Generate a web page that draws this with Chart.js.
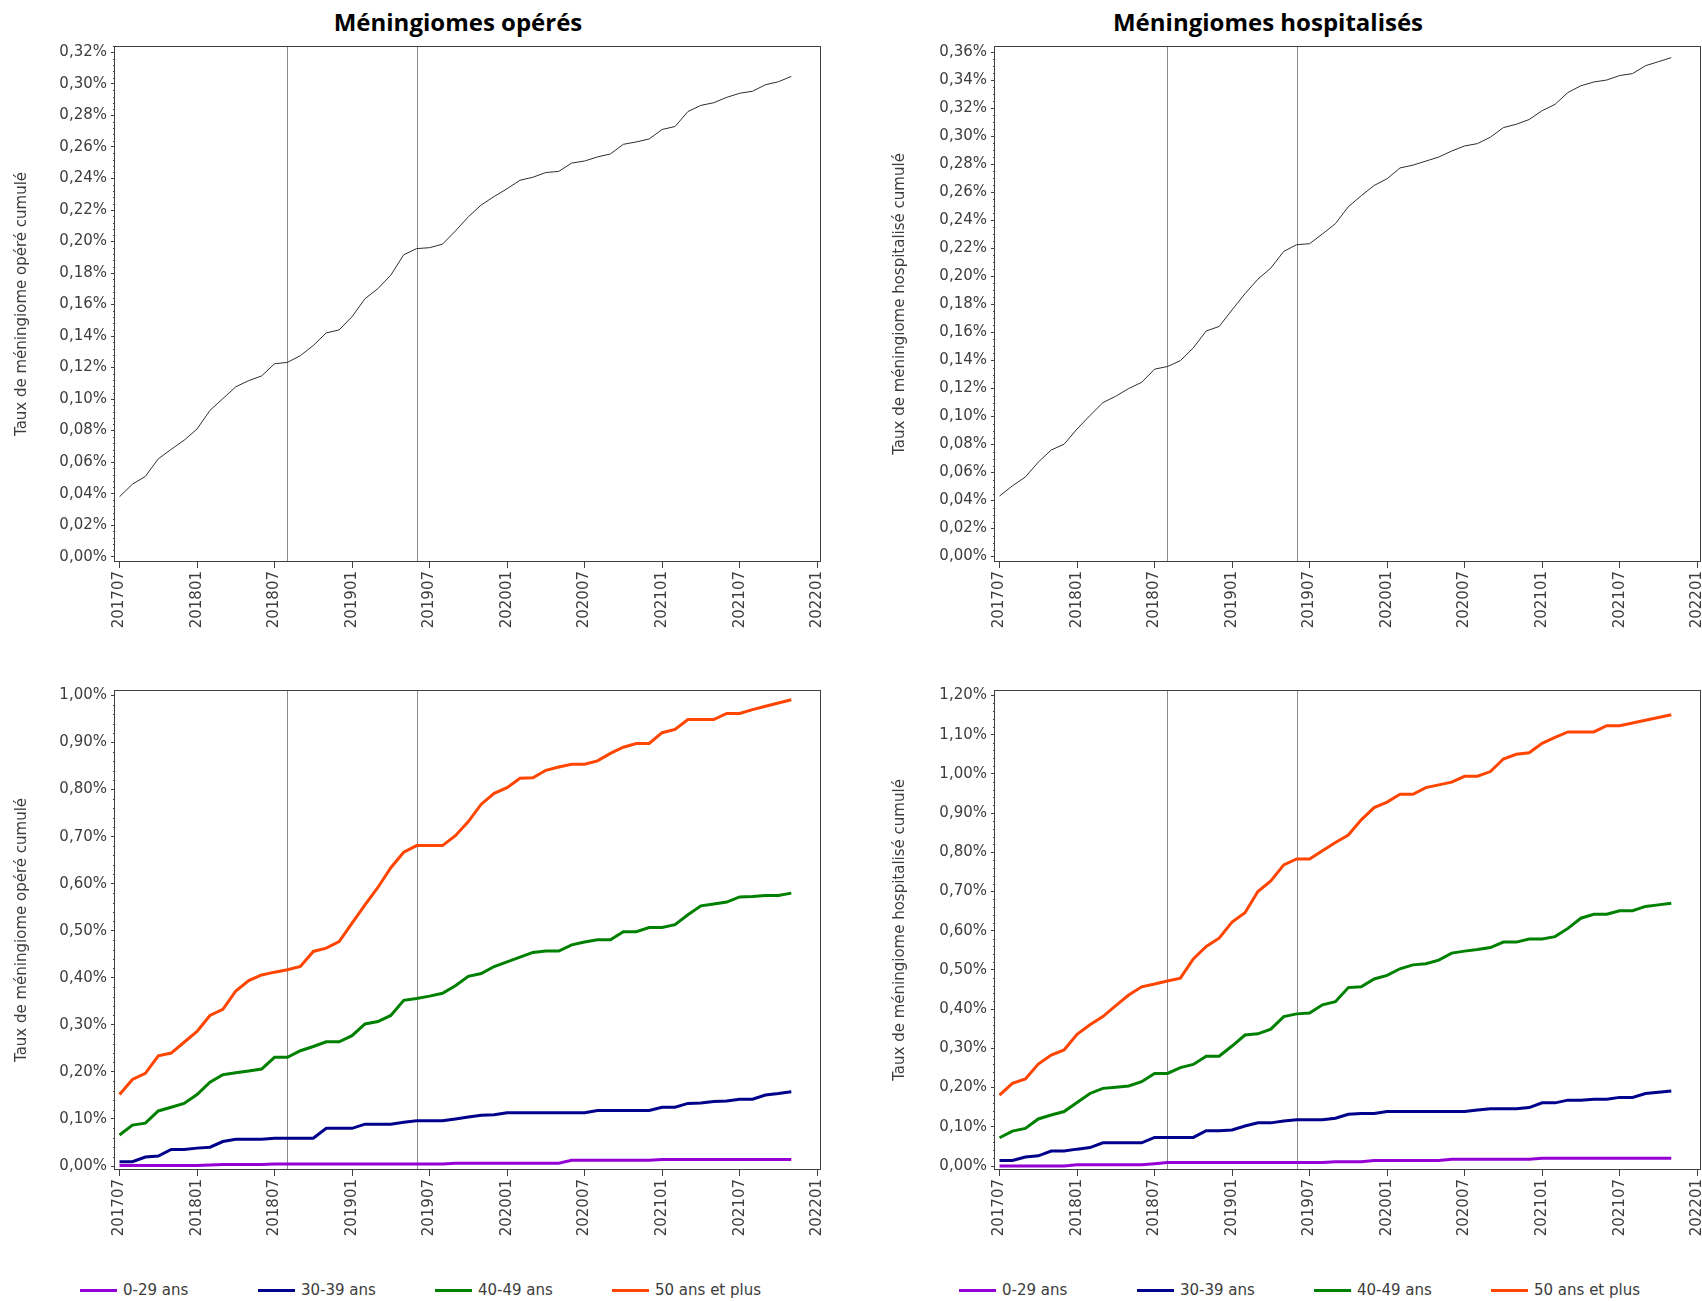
<!DOCTYPE html>
<html lang="fr">
<head>
<meta charset="utf-8">
<title>Méningiomes opérés / hospitalisés</title>
<script src="https://cdn.jsdelivr.net/npm/chart.js@4.4.0/dist/chart.umd.min.js"></script>
<style>
    html, body { margin: 0; padding: 0; background: #fff; }
    #page { position: relative; width: 1702px; height: 1301px; overflow: hidden; background: #fff; }
    .panel-title {
        position: absolute; top: 21px; transform: translate(-50%, -50%);
        font-family: 'Open Sans', sans-serif; font-weight: 700; font-size: 24px;
        color: #000; white-space: nowrap;
    }
    canvas { position: absolute; }
    .legend-item {
        position: absolute; top: 1280px; height: 20px; line-height: 20px;
        font-family: 'DejaVu Sans', sans-serif; font-size: 15px; color: #3c3c3c; white-space: nowrap;
    }
    .legend-item span {
        display: inline-block; width: 37px; height: 3px; margin-right: 6px; vertical-align: middle;
    }
</style>
</head>
<body>
<div id="page">
    <div class="panel-title" style="left:458px">Méningiomes opérés</div>
    <div class="panel-title" style="left:1268px">Méningiomes hospitalisés</div>
    <canvas id="op-total" width="841" height="612" style="left:0px;top:30px"></canvas>
    <canvas id="hosp-total" width="871" height="612" style="left:850px;top:30px"></canvas>
    <canvas id="op-age" width="841" height="576" style="left:0px;top:674px"></canvas>
    <canvas id="hosp-age" width="871" height="576" style="left:850px;top:674px"></canvas>
</div>
<script>
// mois (abscisses)
const months = [
    '201707','201708','201709','201710','201711','201712',
    '201801','201802','201803','201804','201805','201806','201807','201808','201809','201810','201811','201812',
    '201901','201902','201903','201904','201905','201906','201907','201908','201909','201910','201911','201912',
    '202001','202002','202003','202004','202005','202006','202007','202008','202009','202010','202011','202012',
    '202101','202102','202103','202104','202105','202106','202107','202108','202109','202110','202111'
];
const xTickLabels = ['201707','201801','201807','201901','201907','202001','202007','202101','202107','202201'];
const alertMonths = ['201808', '201906'];

const ageGroups = ['0-29 ans', '30-39 ans', '40-49 ans', '50 ans et plus'];
const ageColors = ['#9400d3', '#00008b', '#008000', '#ff4500'];

// taux cumulés (%)
const opTotal = [
    0.0380,0.0460,0.0509,0.0621,0.0681,0.0739,0.0810,0.0928,0.1003,0.1078,
    0.1117,0.1147,0.1224,0.1233,0.1276,0.1340,0.1420,0.1439,0.1523,0.1637,
    0.1701,0.1787,0.1916,0.1955,0.1961,0.1983,0.2067,0.2157,0.2232,0.2286,
    0.2335,0.2389,0.2408,0.2438,0.2445,0.2498,0.2511,0.2537,0.2556,0.2617,
    0.2632,0.2651,0.2711,0.2730,0.2825,0.2864,0.2881,0.2915,0.2941,0.2954,
    0.2995,0.3014,0.3048
];
const hospTotal = [
    0.0432,0.0505,0.0568,0.0674,0.0761,0.0802,0.0911,0.1007,0.1099,0.1145,
    0.1200,0.1244,0.1338,0.1357,0.1399,0.1490,0.1611,0.1643,0.1761,0.1877,
    0.1981,0.2060,0.2179,0.2227,0.2234,0.2304,0.2377,0.2498,0.2577,0.2650,
    0.2698,0.2775,0.2795,0.2824,0.2853,0.2896,0.2932,0.2949,0.2995,0.3063,
    0.3087,0.3121,0.3184,0.3229,0.3314,0.3362,0.3389,0.3403,0.3435,0.3449,
    0.3505,0.3534,0.3563
];

const op0_29 = [
    0.001,0.001,0.001,0.001,0.001,0.001,0.001,0.002,0.003,0.003,
    0.003,0.003,0.004,0.004,0.004,0.004,0.004,0.004,0.004,0.004,
    0.004,0.004,0.004,0.004,0.004,0.004,0.006,0.006,0.006,0.006,
    0.006,0.006,0.006,0.006,0.006,0.012,0.012,0.012,0.012,0.012,
    0.012,0.012,0.014,0.014,0.014,0.014,0.014,0.014,0.014,0.014,
    0.014,0.014,0.014
];
const op30_39 = [
    0.009,0.009,0.019,0.021,0.035,0.035,0.038,0.040,0.052,0.057,
    0.057,0.057,0.059,0.059,0.059,0.059,0.080,0.080,0.080,0.089,
    0.089,0.089,0.093,0.096,0.096,0.096,0.100,0.104,0.108,0.109,
    0.113,0.113,0.113,0.113,0.113,0.113,0.113,0.118,0.118,0.118,
    0.118,0.118,0.125,0.125,0.133,0.134,0.137,0.138,0.142,0.142,
    0.151,0.154,0.158
];
const op40_49 = [
    0.066,0.087,0.091,0.117,0.125,0.133,0.152,0.178,0.194,0.198,
    0.202,0.206,0.231,0.231,0.245,0.254,0.264,0.264,0.277,0.302,
    0.307,0.320,0.352,0.356,0.361,0.367,0.383,0.403,0.409,0.424,
    0.434,0.444,0.454,0.457,0.457,0.470,0.476,0.481,0.481,0.498,
    0.498,0.507,0.507,0.513,0.534,0.553,0.557,0.561,0.572,0.573,
    0.575,0.575,0.580
];
const op50plus = [
    0.152,0.184,0.197,0.234,0.240,0.263,0.286,0.320,0.333,0.372,
    0.394,0.406,0.412,0.417,0.424,0.456,0.463,0.477,0.516,0.555,
    0.592,0.634,0.667,0.681,0.681,0.681,0.702,0.732,0.769,0.792,
    0.804,0.824,0.825,0.841,0.848,0.854,0.854,0.861,0.877,0.890,
    0.898,0.898,0.921,0.928,0.949,0.949,0.949,0.962,0.962,0.970,
    0.977,0.984,0.991
];

const hosp0_29 = [
    0.000,0.000,0.000,0.000,0.000,0.000,0.003,0.003,0.003,0.003,
    0.003,0.003,0.006,0.009,0.009,0.009,0.009,0.009,0.009,0.009,
    0.009,0.009,0.009,0.009,0.009,0.009,0.011,0.011,0.011,0.014,
    0.014,0.014,0.014,0.014,0.014,0.017,0.017,0.017,0.017,0.017,
    0.017,0.017,0.020,0.020,0.020,0.020,0.020,0.020,0.020,0.020,
    0.020,0.020,0.020
];
const hosp30_39 = [
    0.014,0.014,0.023,0.026,0.038,0.038,0.043,0.047,0.059,0.059,
    0.059,0.059,0.073,0.073,0.073,0.073,0.090,0.090,0.092,0.102,
    0.110,0.110,0.115,0.118,0.118,0.118,0.122,0.132,0.134,0.134,
    0.139,0.139,0.139,0.139,0.139,0.139,0.139,0.143,0.146,0.146,
    0.146,0.149,0.161,0.161,0.168,0.168,0.170,0.170,0.175,0.175,
    0.185,0.188,0.191
];
const hosp40_49 = [
    0.072,0.089,0.096,0.120,0.130,0.139,0.162,0.185,0.198,0.201,
    0.204,0.215,0.236,0.236,0.251,0.259,0.280,0.280,0.306,0.334,
    0.337,0.349,0.381,0.388,0.390,0.411,0.419,0.455,0.457,0.477,
    0.486,0.503,0.513,0.516,0.525,0.543,0.548,0.552,0.557,0.571,
    0.571,0.579,0.579,0.585,0.606,0.632,0.642,0.642,0.651,0.651,
    0.662,0.666,0.670
];
const hosp50plus = [
    0.181,0.211,0.222,0.260,0.283,0.296,0.336,0.360,0.381,0.409,
    0.436,0.457,0.464,0.472,0.479,0.528,0.560,0.581,0.622,0.646,
    0.700,0.727,0.768,0.783,0.783,0.804,0.825,0.844,0.883,0.914,
    0.928,0.948,0.948,0.965,0.972,0.979,0.994,0.994,1.006,1.038,
    1.050,1.054,1.078,1.093,1.107,1.107,1.107,1.123,1.123,1.130,
    1.137,1.144,1.151
];

const textColor = '#3c3c3c';
const axisFont = { family: 'DejaVu Sans', size: 15 };

function toPoints(values) {
    return values.map(function(v, i) { return { x: i, y: v }; });
}

// lignes d'alerte, petites graduations et cadre
const framePlugin = {
    id: 'frame',
    beforeDatasetsDraw: function(chart, args, opts) {
        const ctx = chart.ctx, a = chart.chartArea, x = chart.scales.x, y = chart.scales.y;
        ctx.save();
        ctx.strokeStyle = '#8a8a8a';
        ctx.lineWidth = 1;
        alertMonths.forEach(function(m) {
            const px = Math.round(x.getPixelForValue(months.indexOf(m))) + 0.5;
            ctx.beginPath();
            ctx.moveTo(px, a.top);
            ctx.lineTo(px, a.bottom);
            ctx.stroke();
        });
        // minor ticks on the y axis
        ctx.strokeStyle = '#404040';
        const ratio = Math.round(opts.majorStep / opts.minorStep);
        const kMin = Math.ceil(y.min / opts.minorStep), kMax = Math.floor(y.max / opts.minorStep);
        for (let k = kMin; k <= kMax; k++) {
            if (k % ratio === 0) continue;
            const py = Math.round(y.getPixelForValue(k * opts.minorStep)) + 0.5;
            ctx.beginPath();
            ctx.moveTo(a.left - 2, py);
            ctx.lineTo(a.left, py);
            ctx.stroke();
        }
        ctx.restore();
    },
    afterDraw: function(chart) {
        const ctx = chart.ctx, a = chart.chartArea;
        ctx.save();
        ctx.strokeStyle = '#404040';
        ctx.lineWidth = 1;
        ctx.strokeRect(Math.round(a.left) - 0.5, Math.round(a.top) + 0.5,
                       Math.round(a.right - a.left), Math.round(a.bottom - a.top) - 1);
        ctx.restore();
    }
};

function makeChart(id, yTitle, titlePad, yAxisWidth, yMin, yMax, majorStep, minorStep, datasets) {
    return new Chart(document.getElementById(id), {
        type: 'line',
        data: { datasets: datasets },
        options: {
            responsive: false,
            animation: false,
            layout: { padding: { left: 0, top: 16, right: 20, bottom: 0 } },
            elements: { point: { radius: 0 }, line: { tension: 0 } },
            plugins: {
                legend: { display: false },
                tooltip: { enabled: false },
                frame: { majorStep: majorStep, minorStep: minorStep }
            },
            scales: {
                x: {
                    type: 'linear',
                    min: -0.35,
                    max: 54.3,
                    border: { display: false },
                    grid: { display: true, drawOnChartArea: false, drawTicks: true, tickLength: 6, tickColor: '#404040' },
                    ticks: {
                        stepSize: 6,
                        includeBounds: false,
                        autoSkip: false,
                        minRotation: 90,
                        maxRotation: 90,
                        padding: 3,
                        color: textColor,
                        font: axisFont,
                        callback: function(v) { return xTickLabels[Math.round(v / 6)]; }
                    },
                    afterFit: function(scale) { scale.height = 80; }
                },
                y: {
                    min: yMin,
                    max: yMax,
                    border: { display: false },
                    grid: { display: true, drawOnChartArea: false, drawTicks: true, tickLength: 4, tickColor: '#404040' },
                    ticks: {
                        stepSize: majorStep,
                        includeBounds: false,
                        padding: 4,
                        color: textColor,
                        font: axisFont,
                        callback: function(v) { return v.toFixed(2).replace('.', ',') + '%'; }
                    },
                    title: {
                        display: true,
                        text: yTitle,
                        color: textColor,
                        font: axisFont,
                        padding: { top: titlePad, bottom: 0 }
                    },
                    afterFit: function(scale) { scale.width = yAxisWidth; }
                }
            }
        },
        plugins: [framePlugin]
    });
}

function totalSet(values) {
    return [{ label: 'Total', data: toPoints(values), borderColor: '#2e2e2e', borderWidth: 1 }];
}

function ageSets(series) {
    return series.map(function(values, i) {
        return { label: ageGroups[i], data: toPoints(values), borderColor: ageColors[i], borderWidth: 3 };
    });
}

makeChart('op-total', 'Taux de méningiome opéré cumulé', 13, 115,
          -0.0034, 0.3241, 0.02, 0.004, totalSet(opTotal));
makeChart('hosp-total', 'Taux de méningiome hospitalisé cumulé', 41, 145,
          -0.0039, 0.3646, 0.02, 0.005, totalSet(hospTotal));
makeChart('op-age', 'Taux de méningiome opéré cumulé', 13, 115,
          -0.0085, 1.0117, 0.1, 0.02, ageSets([op0_29, op30_39, op40_49, op50plus]));
makeChart('hosp-age', 'Taux de méningiome hospitalisé cumulé', 41, 145,
          -0.0102, 1.214, 0.1, 0.02, ageSets([hosp0_29, hosp30_39, hosp40_49, hosp50plus]));

// légendes sous les graphiques par âge
const legendLeft = [80, 258, 435, 612];
[0, 879].forEach(function(offset) {
    ageGroups.forEach(function(name, i) {
        const item = document.createElement('div');
        item.className = 'legend-item';
        item.style.left = (legendLeft[i] + offset) + 'px';
        const swatch = document.createElement('span');
        swatch.style.background = ageColors[i];
        item.appendChild(swatch);
        item.appendChild(document.createTextNode(name));
        document.getElementById('page').appendChild(item);
    });
});
</script>
</body>
</html>
